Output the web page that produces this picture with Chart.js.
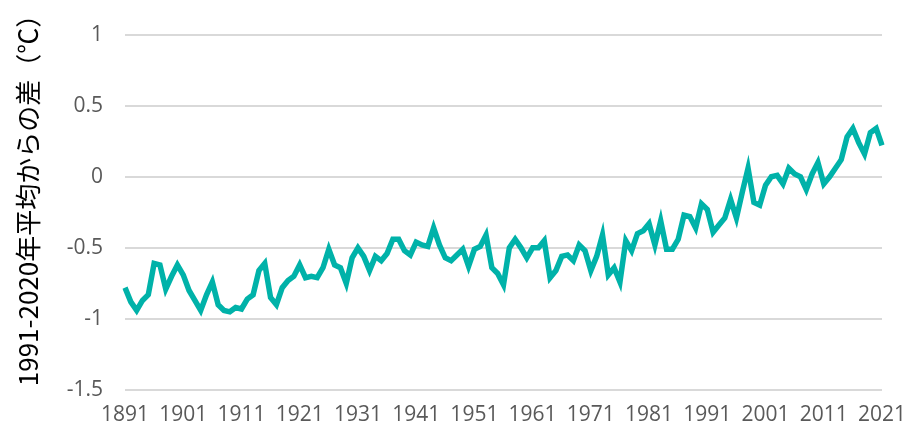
<!DOCTYPE html>
<html>
<head>
<meta charset="utf-8">
<script src="https://cdn.jsdelivr.net/npm/chart.js@4"></script>
<style>
  body { margin: 0; background: #fff; }
  #wrap { width: 907px; height: 430px; }
</style>
</head>
<body>
<div id="wrap"><canvas id="chartOne"></canvas></div>
<script>
// years 1891..2021
const years = [];
for (let y = 1891; y <= 2021; y++) years.push(y);

// anomaly from 1991-2020 mean (degC)
const anomaly = [
  -0.78, -0.88, -0.94, -0.87, -0.83, -0.61, -0.62, -0.79, -0.70, -0.62, // 1891-1900
  -0.69, -0.80, -0.87, -0.94, -0.83, -0.74, -0.90, -0.94, -0.95, -0.92, // 1901-1910
  -0.93, -0.86, -0.83, -0.66, -0.61, -0.85, -0.90, -0.78, -0.73, -0.70, // 1911-1920
  -0.62, -0.71, -0.70, -0.71, -0.64, -0.51, -0.62, -0.64, -0.75, -0.57, // 1921-1930
  -0.50, -0.56, -0.66, -0.56, -0.59, -0.54, -0.44, -0.44, -0.52, -0.55, // 1931-1940
  -0.46, -0.48, -0.49, -0.36, -0.48, -0.57, -0.59, -0.55, -0.51, -0.63, // 1941-1950
  -0.51, -0.49, -0.41, -0.64, -0.68, -0.76, -0.50, -0.44, -0.50, -0.57, // 1951-1960
  -0.50, -0.50, -0.45, -0.71, -0.66, -0.56, -0.55, -0.59, -0.48, -0.52, // 1961-1970
  -0.66, -0.56, -0.41, -0.69, -0.64, -0.74, -0.45, -0.52, -0.40, -0.38, // 1971-1980
  -0.33, -0.48, -0.31, -0.51, -0.51, -0.44, -0.27, -0.28, -0.36, -0.19, // 1981-1990
  -0.23, -0.39, -0.34, -0.29, -0.16, -0.29, -0.11, 0.06, -0.18, -0.20,  // 1991-2000
  -0.06, 0.00, 0.01, -0.05, 0.06, 0.02, 0.00, -0.09, 0.02, 0.10,        // 2001-2010
  -0.05, 0.00, 0.06, 0.12, 0.28, 0.34, 0.24, 0.16, 0.31, 0.34,          // 2011-2020
  0.22                                                                  // 2021
];

const yTicks = [-1.5, -1, -0.5, 0, 0.5, 1];
const yTitle = '1991-2020年平均からの差（℃）';

// y axis title, drawn rotated on the left
const yTitlePlugin = {
  id: 'yTitle',
  afterDraw(chart) {
    const c = chart.ctx;
    c.save();
    c.translate(28, 194);
    c.rotate(-Math.PI / 2);
    c.font = "26px 'Noto Sans CJK JP', 'Noto Sans', sans-serif";
    c.fillStyle = '#000';
    c.textAlign = 'center';
    c.textBaseline = 'middle';
    c.fillText(yTitle, 0, 0);
    c.restore();
  }
};

const ctx = document.getElementById('chartOne').getContext('2d');

new Chart(ctx, {
  type: 'line',
  data: {
    labels: years,
    datasets: [{
      label: 'anomaly',
      data: anomaly,
      borderColor: '#00b2a9',
      backgroundColor: '#00b2a9',
      borderWidth: 5.5,
      pointRadius: 0,
      tension: 0,
      fill: false
    }]
  },
  options: {
    responsive: true,
    maintainAspectRatio: false,
    animation: false,
    layout: { padding: { top: 20, right: 0, left: 0, bottom: 0 } },
    plugins: {
      legend: { display: false },
      tooltip: { enabled: false }
    },
    scales: {
      x: {
        offset: false,
        grid: { display: false, drawTicks: false },
        border: { display: false },
        ticks: {
          autoSkip: false,
          maxRotation: 0,
          padding: 12,
          color: '#595959',
          font: { family: 'Open Sans', size: 21 },
          callback: function (val, i) {
            const yr = years[i];
            return (yr - 1891) % 10 === 0 ? String(yr) : null;
          }
        },
        afterFit: function (scale) {
          scale.height = 40;
          scale.paddingRight = 25;
        }
      },
      y: {
        min: -1.5,
        max: 1,
        afterBuildTicks: function (scale) {
          scale.ticks = yTicks.map(v => ({ value: v }));
        },
        grid: { color: '#d9d9d9', lineWidth: 2, drawTicks: false },
        border: { display: false },
        ticks: {
          padding: 22,
          color: '#595959',
          font: { family: 'Open Sans', size: 21 },
          callback: function (v) { return String(v); }
        },
        afterFit: function (scale) { scale.width = 125; }
      }
    }
  },
  plugins: [yTitlePlugin]
});
</script>
</body>
</html>
